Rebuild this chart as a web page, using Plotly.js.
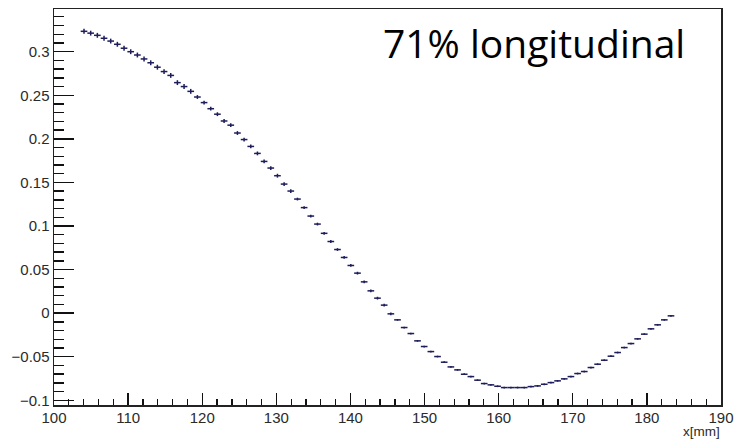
<!DOCTYPE html>
<html>
<head>
<meta charset="utf-8">
<script src="https://cdn.plot.ly/plotly-3.0.1.min.js"></script>
<style>
html,body{margin:0;padding:0;background:#fff;}
#chart{width:735px;height:439px;}
</style>
</head>
<body>
<div id="chart"></div>
<script>
// Bin centers (mm), bin width 0.9 mm
const binCenters = [
104.05,104.95,105.85,106.75,107.65,108.55,109.45,110.35,111.25,112.15,
113.05,113.95,114.85,115.75,116.65,117.55,118.45,119.35,120.25,121.15,
122.05,122.95,123.85,124.75,125.65,126.55,127.45,128.35,129.25,130.15,
131.05,131.95,132.85,133.75,134.65,135.55,136.45,137.35,138.25,139.15,
140.05,140.95,141.85,142.75,143.65,144.55,145.45,146.35,147.25,148.15,
149.05,149.95,150.85,151.75,152.65,153.55,154.45,155.35,156.25,157.15,
158.05,158.95,159.85,160.75,161.65,162.55,163.45,164.35,165.25,166.15,
167.05,167.95,168.85,169.75,170.65,171.55,172.45,173.35,174.25,175.15,
176.05,176.95,177.85,178.75,179.65,180.55,181.45,182.35,183.25
];
const binValues = [
0.3234,0.3213,0.3188,0.3154,0.3122,0.3085,0.3040,0.3000,0.2962,0.2917,
0.2873,0.2822,0.2772,0.2728,0.2645,0.2600,0.2545,0.2480,0.2416,0.2346,
0.2283,0.2205,0.2157,0.2067,0.1992,0.1913,0.1833,0.1741,0.1665,0.1577,
0.1481,0.1401,0.1309,0.1211,0.1114,0.1022,0.0916,0.0822,0.0730,0.0639,
0.0547,0.0459,0.0359,0.0256,0.0172,0.0092,-0.0008,-0.0077,-0.0165,-0.0234,
-0.0318,-0.0383,-0.0441,-0.0498,-0.0563,-0.0617,-0.0651,-0.0701,-0.0728,-0.0769,
-0.0808,-0.0823,-0.0839,-0.0854,-0.0854,-0.0854,-0.0854,-0.0843,-0.0835,-0.0816,
-0.0797,-0.0777,-0.0754,-0.0728,-0.0693,-0.0670,-0.0624,-0.0586,-0.0540,-0.0494,
-0.0452,-0.0395,-0.0349,-0.0295,-0.0241,-0.0180,-0.0134,-0.0077,-0.0031
];
const binErrors = [
0.0028,0.0028,0.0028,0.0028,0.0028,0.0028,0.0028,0.0028,0.0028,0.0028,
0.0028,0.0028,0.0028,0.0028,0.0028,0.0028,0.0028,0.0022,0.0022,0.0022,
0.0022,0.0022,0.0022,0.0022,0.0022,0.0022,0.0022,0.0022,0.0022,0.0022,
0.0022,0.0022,0.0016,0.0016,0.0016,0.0016,0.0016,0.0016,0.0016,0.0016,
0.0016,0.0016,0.0016,0.0016,0.0016,0.0016,0.0016,0.0010,0.0010,0.0010,
0.0010,0.0010,0.0010,0.0010,0.0010,0.0010,0.0010,0.0010,0.0010,0.0010,
0.0010,0.0010,0.0010,0.0010,0.0010,0.0010,0.0010,0.0010,0.0010,0.0010,
0.0010,0.0010,0.0010,0.0010,0.0010,0.0010,0.0010,0.0010,0.0010,0.0010,
0.0010,0.0010,0.0010,0.0010,0.0010,0.0010,0.0010,0.0010,0.0010
];
const binHalfWidth = 0.45;
const labelText = '71% longitudinal';
const xTitle = 'x[mm]';

const lineColor = '#1d1d5c';

const trace = {
  type: 'scatter',
  mode: 'markers',
  x: binCenters,
  y: binValues,
  marker: {size: 1, color: lineColor, opacity: 0},
  error_x: {type: 'constant', value: binHalfWidth, width: 0, color: lineColor, thickness: 1.5},
  error_y: {type: 'data', array: binErrors, visible: true, width: 0, color: lineColor, thickness: 1.5},
  hoverinfo: 'x+y'
};

const tickFont = {family: 'Liberation Sans, Arial, sans-serif', size: 15, color: '#2a2a2a'};

const layout = {
  width: 735, height: 439,
  margin: {l: 54, r: 14, t: 9, b: 34, pad: 0},
  paper_bgcolor: '#fff', plot_bgcolor: '#fff',
  showlegend: false,
  font: tickFont,
  xaxis: {
    range: [100, 190],
    tickmode: 'linear', tick0: 100, dtick: 10,
    ticks: 'inside', ticklen: 12, tickwidth: 1.3, tickcolor: '#111',
    minor: {dtick: 2, ticks: 'inside', ticklen: 6, tickwidth: 1.3, tickcolor: '#111', showgrid: false},
    showgrid: false, zeroline: false,
    showline: true, linecolor: '#222', linewidth: 1.5, mirror: true,
    tickfont: tickFont, ticklabelstandoff: -2
  },
  yaxis: {
    range: [-0.1054, 0.349],
    tickmode: 'linear', tick0: -0.1, dtick: 0.05,
    ticks: 'inside', ticklen: 20, tickwidth: 1.3, tickcolor: '#111',
    minor: {dtick: 0.01, ticks: 'inside', ticklen: 10, tickwidth: 1.3, tickcolor: '#111', showgrid: false},
    showgrid: false, zeroline: false,
    showline: true, linecolor: '#222', linewidth: 1.5, mirror: true,
    tickfont: tickFont, ticklabelstandoff: 0
  },
  annotations: [
    {text: labelText, xref: 'paper', yref: 'paper', x: 0.72, y: 0.915,
     xanchor: 'center', yanchor: 'middle', showarrow: false,
     font: {family: 'Open Sans, Noto Sans, sans-serif', size: 39, color: '#000'}},
    {text: xTitle, xref: 'paper', yref: 'paper', x: 1.0, y: 0, yshift: -26,
     xanchor: 'right', yanchor: 'middle', showarrow: false, borderpad: 0,
     font: {family: 'Liberation Sans, Arial, sans-serif', size: 13.5, color: '#2a2a2a'}}
  ]
};

Plotly.newPlot('chart', [trace], layout, {displayModeBar: false, staticPlot: true});
</script>
</body>
</html>
